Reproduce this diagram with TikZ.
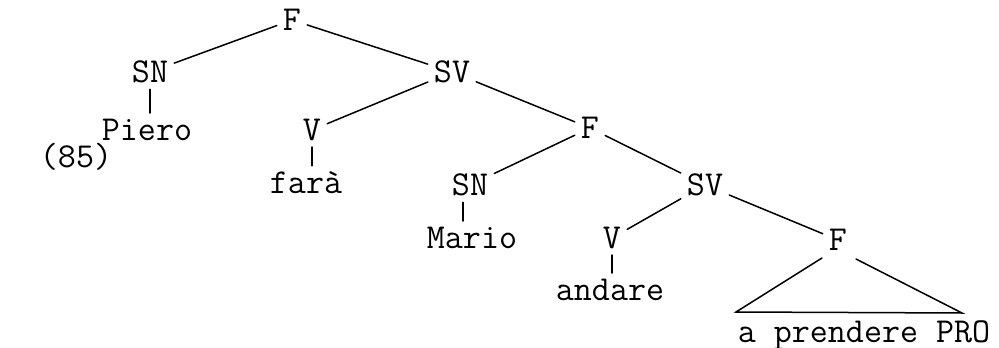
\documentclass[tikz,border=0pt]{standalone}
\begin{document}
\begin{tikzpicture}[x=1pt,y=-1pt,
  lab/.style={font=\ttfamily\fontsize{35}{35}\selectfont, inner sep=6pt, anchor=center},
  edge/.style={line width=1.5pt, line cap=round}]
\useasboundingbox (0,0) rectangle (999,348);

% category labels and words
\node[lab] (F1)    at (292,20)  {F};
\node[lab] (SN1)   at (150,72)  {SN};
\node[lab] (SV1)   at (452,72)  {SV};
\node[lab] (piero) at (147,130) {Piero};
\node[lab] (V1)    at (312,130) {V};
\node[lab] (fara)  at (306,183) {farà};
\node[lab] (ex)    at (76,157)  {(85)};
\node[lab] (F2)    at (590,128) {F};
\node[lab] (SN2)   at (470,185) {SN};
\node[lab] (SV2)   at (705,185) {SV};
\node[lab] (mario) at (472,238) {Mario};
\node[lab] (V2)    at (612,238) {V};
\node[lab] (andare) at (610,290) {andare};
\node[lab] (F3)    at (838,240) {F};
\node[lab] (comp)  at (864,335) {a prendere PRO};

% branches
\draw[edge] (F1) -- (SN1);
\draw[edge] (F1) -- (SV1);
\draw[edge] (SN1) -- (SN1 |- piero.north);
\draw[edge] (SV1) -- (V1);
\draw[edge] (SV1) -- (F2);
\draw[edge] (V1) -- (V1 |- fara.north);
\draw[edge] (F2) -- (SN2);
\draw[edge] (F2) -- (SV2);
\coordinate (sntop) at ([xshift=-7pt]SN2.south);
\draw[edge] (sntop) -- (sntop |- mario.north);
\draw[edge] (SV2) -- (V2);
\draw[edge] (SV2) -- (F3);
\draw[edge] (V2) -- (V2 |- andare.north);

% triangle over the unanalysed complement
\coordinate (tl) at (822,258);
\coordinate (tr) at (856,259);
\coordinate (bl) at (736,312);
\coordinate (br) at (962,313);
\draw[edge] (tl) -- (bl) -- (br) -- (tr);
\end{tikzpicture}
\end{document}
